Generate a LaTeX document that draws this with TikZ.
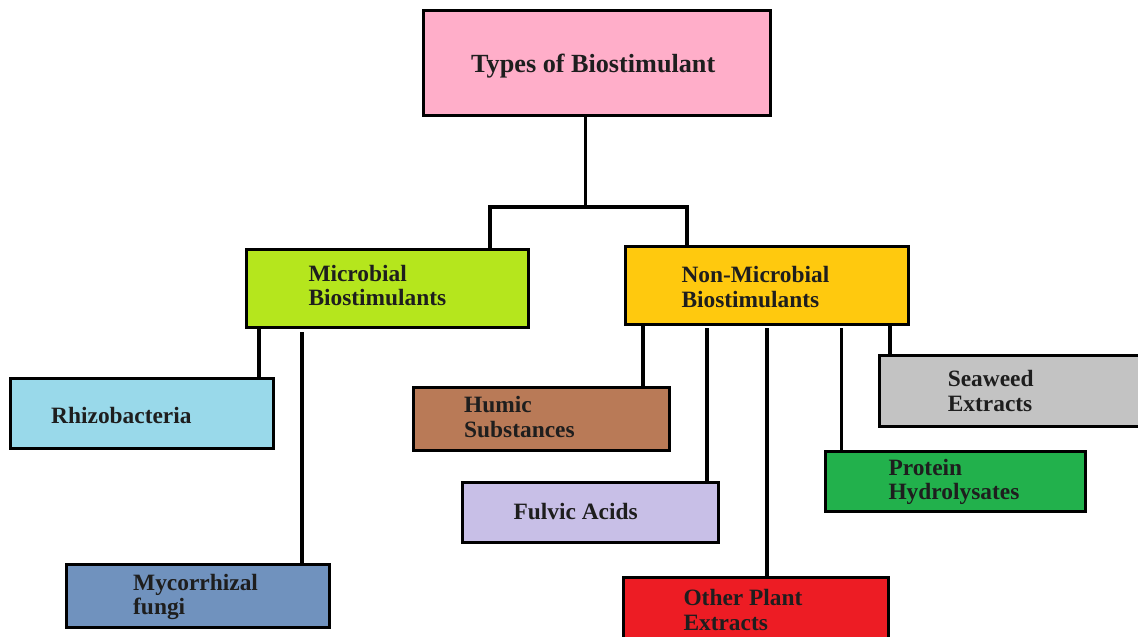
\documentclass[tikz,border=0pt]{standalone}
\usepackage{fontspec}
\setmainfont{Liberation Serif}
\usetikzlibrary{fit}
\definecolor{cpink}{HTML}{FFAEC9}
\definecolor{clime}{HTML}{B5E61D}
\definecolor{cgold}{HTML}{FFC90E}
\definecolor{cltblue}{HTML}{99D9EA}
\definecolor{csteel}{HTML}{7092BE}
\definecolor{cbrown}{HTML}{B97A57}
\definecolor{clav}{HTML}{C8BFE7}
\definecolor{cred}{HTML}{ED1C24}
\definecolor{cgreen}{HTML}{22B14C}
\definecolor{cgray}{HTML}{C3C3C3}
\definecolor{ctext}{HTML}{1E1E1E}
\tikzset{
  box/.style={draw=black, line width=3pt, inner sep=0pt, rectangle},
  lbl/.style={anchor=base west, inner sep=0pt, text=ctext,
    font=\fontsize{23.4}{24.6}\selectfont\bfseries},
  ttl/.style={anchor=base west, inner sep=0pt, text=ctext,
    font=\fontsize{26.2}{28}\selectfont\bfseries},
  conn/.style={draw=black, line width=3.2pt}
}
\newcommand{\twol}[2]{\begin{tabular}[t]{@{}l@{}}#1\\#2\end{tabular}}
\begin{document}
\begin{tikzpicture}[x=1pt,y=-1pt]
\clip (0,0) rectangle (1138,637);
\fill[white] (0,0) rectangle (1138,637);
% boxes
\node[box, fill=cpink,   fit={(423.5,10.5) (770.5,115.5)}] (title) {};
\node[box, fill=clime,   fit={(246.5,249.5) (528.5,327.5)}] (micro) {};
\node[box, fill=cgold,   fit={(625.5,246.5) (908.5,324.5)}] (nonmicro) {};
\node[box, fill=cltblue, fit={(10.5,378.5) (273.5,448.5)}] (rhizo) {};
\node[box, fill=csteel,  fit={(66.5,564.5) (329.5,627.5)}] (myco) {};
\node[box, fill=cbrown,  fit={(413.5,387.5) (669.5,450.5)}] (humic) {};
\node[box, fill=clav,    fit={(462.5,482.5) (718.5,542.5)}] (fulvic) {};
\node[box, fill=cred,    fit={(623.5,577.5) (888.5,652)}] (other) {};
\node[box, fill=cgreen,  fit={(825.5,451.5) (1085.5,511.5)}] (protein) {};
\node[box, fill=cgray,   fit={(879.5,355.5) (1152,426)}] (seaweed) {};
% labels
\node[ttl] (ttitle) at (471,72) {Types of Biostimulant};
\node[lbl] (tmicro) at (308.3,281) {\twol{Microbial}{Biostimulants}};
\node[lbl] (tnonmicro) at (681.3,282.7) {\twol{Non-Microbial}{Biostimulants}};
\node[lbl] (trhizo) at (51,423) {Rhizobacteria};
\node[lbl] (tmyco) at (133,590) {\twol{Mycorrhizal}{fungi}};
\node[lbl] (thumic) at (464,412.7) {\twol{Humic}{Substances}};
\node[lbl] (tfulvic) at (513.3,519) {Fulvic Acids};
\node[lbl] (tother) at (683.3,605.7) {\twol{Other Plant}{Extracts}};
\node[lbl] (tprotein) at (888.3,475) {\twol{Protein}{Hydrolysates}};
\node[lbl] (tseaweed) at (947.6,386.7) {\twol{Seaweed}{Extracts}};
% junction coordinates
\coordinate (j) at (585.7,207);
\coordinate (jl) at (490,207);
\coordinate (jr) at (687,207);
% connectors
\draw[conn] (title.south -| j) -- (j);
\draw[conn] (micro.north -| jl) ++(0,2.5) -- (jl) -- (jr) -- (nonmicro.north -| jr);
\draw[conn] (micro.south -| 259,0) -- (rhizo.north -| 259,0);
\draw[conn] (micro.south -| 302,0) ++(0,3) -- (myco.north -| 302,0);
\draw[conn] (nonmicro.south -| 643,0) -- (humic.north -| 643,0);
\draw[conn] (nonmicro.south -| 707,0) ++(0,2) -- (fulvic.north -| 707,0);
\draw[conn] (nonmicro.south -| 767,0) ++(0,2) -- (other.north -| 767,0);
\draw[conn] (nonmicro.south -| 841.5,0) ++(0,2) -- (protein.north -| 841.5,0);
\draw[conn] (nonmicro.south -| 890,0) -- (seaweed.north -| 890,0);
\end{tikzpicture}
\end{document}
